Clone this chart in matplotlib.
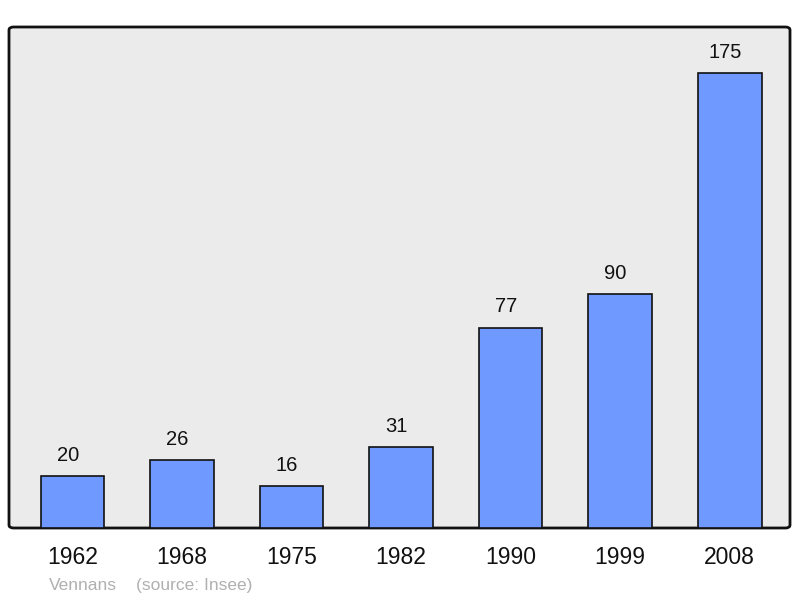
import matplotlib.pyplot as plt
from matplotlib.patches import FancyBboxPatch

years = ["1962", "1968", "1975", "1982", "1990", "1999", "2008"]
population = [20, 26, 16, 31, 77, 90, 175]

plt.rcParams['font.family'] = ['Liberation Sans', 'DejaVu Sans']

fig = plt.figure(figsize=(8, 5.98), dpi=100)
ax = fig.add_axes([9 / 800, 70 / 598, 781 / 800, 501 / 598])
ax.set_xlim(-0.58, 6.55)
ax.set_ylim(0, 192.7)
ax.axis("off")

# rounded frame with grey background
frame = FancyBboxPatch((0, 0), 1, 1, boxstyle="round,pad=0,rounding_size=0.006",
                       transform=ax.transAxes, facecolor="#ebebeb",
                       edgecolor="#111111", linewidth=2, zorder=0, clip_on=False)
ax.add_patch(frame)

x = range(len(years))
bars = ax.bar(x, population, width=0.58, color="#7099ff", edgecolor="#111111",
              linewidth=1.2, zorder=2)
for xi, v in zip(x, population):
    ax.annotate(str(v), (xi, v), xytext=(-3.5, 15), textcoords="offset points",
                ha="center", va="center", fontsize=14.5, color="#111111")
    ax.annotate(years[xi], (xi, 0), xytext=(0, -21), textcoords="offset points",
                ha="center", va="center", fontsize=16.5, color="#111111",
                annotation_clip=False)

fig.text(49 / 800, 1 - 585.5 / 598, "Vennans", color="#b0b0b0", fontsize=12.5, va="center")
fig.text(136 / 800, 1 - 585.5 / 598, "(source: Insee)", color="#b0b0b0", fontsize=12.5, va="center")

fig.savefig("out.png", dpi=100)
